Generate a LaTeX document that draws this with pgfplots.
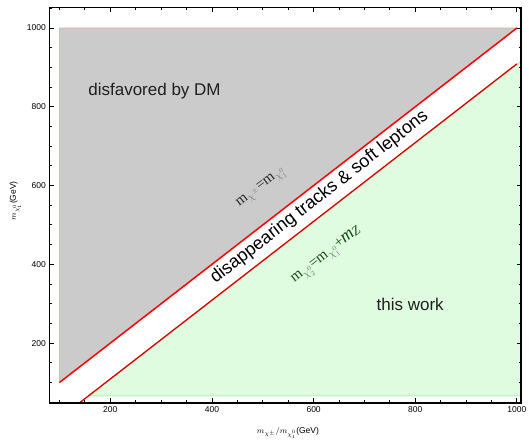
\documentclass[border=0pt]{standalone}
\usepackage{pgfplots}
\pgfplotsset{compat=1.18}
\usepackage{fontspec}
\setmainfont{Liberation Sans}
\newfontfamily\tmfont{Liberation Serif}
\definecolor{greyfill}{RGB}{203,203,203}
\definecolor{greenfill}{RGB}{224,252,224}
\definecolor{greenedge}{RGB}{175,240,175}
\definecolor{pinkedge}{RGB}{242,170,170}
\definecolor{dkgreen}{RGB}{20,75,20}
\definecolor{subgreen}{RGB}{95,130,95}
\begin{document}
\begin{tikzpicture}
\begin{axis}[
  scale only axis, width=471.7pt, height=395.5pt,
  xmin=80, xmax=1008, ymin=48, ymax=1052,
  xtick={200,400,...,1000}, ytick={200,400,...,1000},
  minor xtick={100,150,...,1000}, minor ytick={50,100,...,1050},
  tick align=inside, major tick length=4.5pt, minor tick length=2.5pt,
  every tick/.style={black, line width=0.9pt},
  axis line style={line width=1.5pt},
  tick label style={font=\fontsize{8.5}{10}\selectfont},
  /pgf/number format/assume math mode=true,
  /pgf/number format/1000 sep={},
  axis on top,
  xlabel={\fontsize{8.5}{10}\selectfont$m_{\chi^{\pm}}/m_{\chi_1^0}$(GeV)},
  ylabel={\fontsize{8.5}{10}\selectfont$m_{\chi_1^0}$(GeV)},
  every axis x label/.style={at={(axis description cs:0.506,-0.076)}, anchor=center},
  every axis y label/.style={at={(axis description cs:-0.072,0.511)}, rotate=90, anchor=center},
]
\addplot[fill=greyfill, draw=pinkedge, line width=0.7pt] coordinates {(100,100) (100,1000) (1000,1000) (100,100)};
\addplot[fill=greenfill, draw=greenedge, line width=0.9pt] coordinates {(158.5,66) (1008,915.5) (1008,66) (158.5,66)};
\addplot[red, line width=1.5pt] coordinates {(100,100) (1000,1000)};
\addplot[red!85!black, line width=1.3pt] coordinates {(130,39) (1000,909)};
\node[font=\fontsize{17}{20}\selectfont, text=black!88] at (axis cs:287,840) {disfavored by DM};
\node[font=\fontsize{17}{20}\selectfont, text=black!88] at (axis cs:790,297) {this work};
\node[font=\fontsize{18}{21}\selectfont, text=black, rotate=37.8, anchor=base] at (axis cs:617,561) {disappearing tracks \& soft leptons};
\node[font=\fontsize{15}{17}\selectfont, text=black!85, rotate=37.8, inner sep=0pt] at (axis cs:498,594) {{\tmfont m}$_{\textcolor{gray}{\chi^{\pm}}}${\tmfont =m}$_{\textcolor{gray}{\chi_1^0}}$};
\node[font=\fontsize{15}{17}\selectfont, text=dkgreen, rotate=37.8, inner sep=0pt] at (axis cs:626,421) {{\tmfont m}$_{\textcolor{subgreen}{\chi_2^0}}${\tmfont =m}$_{\textcolor{subgreen}{\chi_1^0}}${\tmfont +\fontsize{18}{20}\selectfont\itshape m}\raisebox{-0.5pt}{\tmfont\itshape\fontsize{13}{15}\selectfont Z}};
\end{axis}
\pgfresetboundingbox
\path[use as bounding box] ([shift={(-49.3pt,-37pt)}]current axis.south west) rectangle ([shift={(8pt,7.5pt)}]current axis.north east);
\end{tikzpicture}
\end{document}
